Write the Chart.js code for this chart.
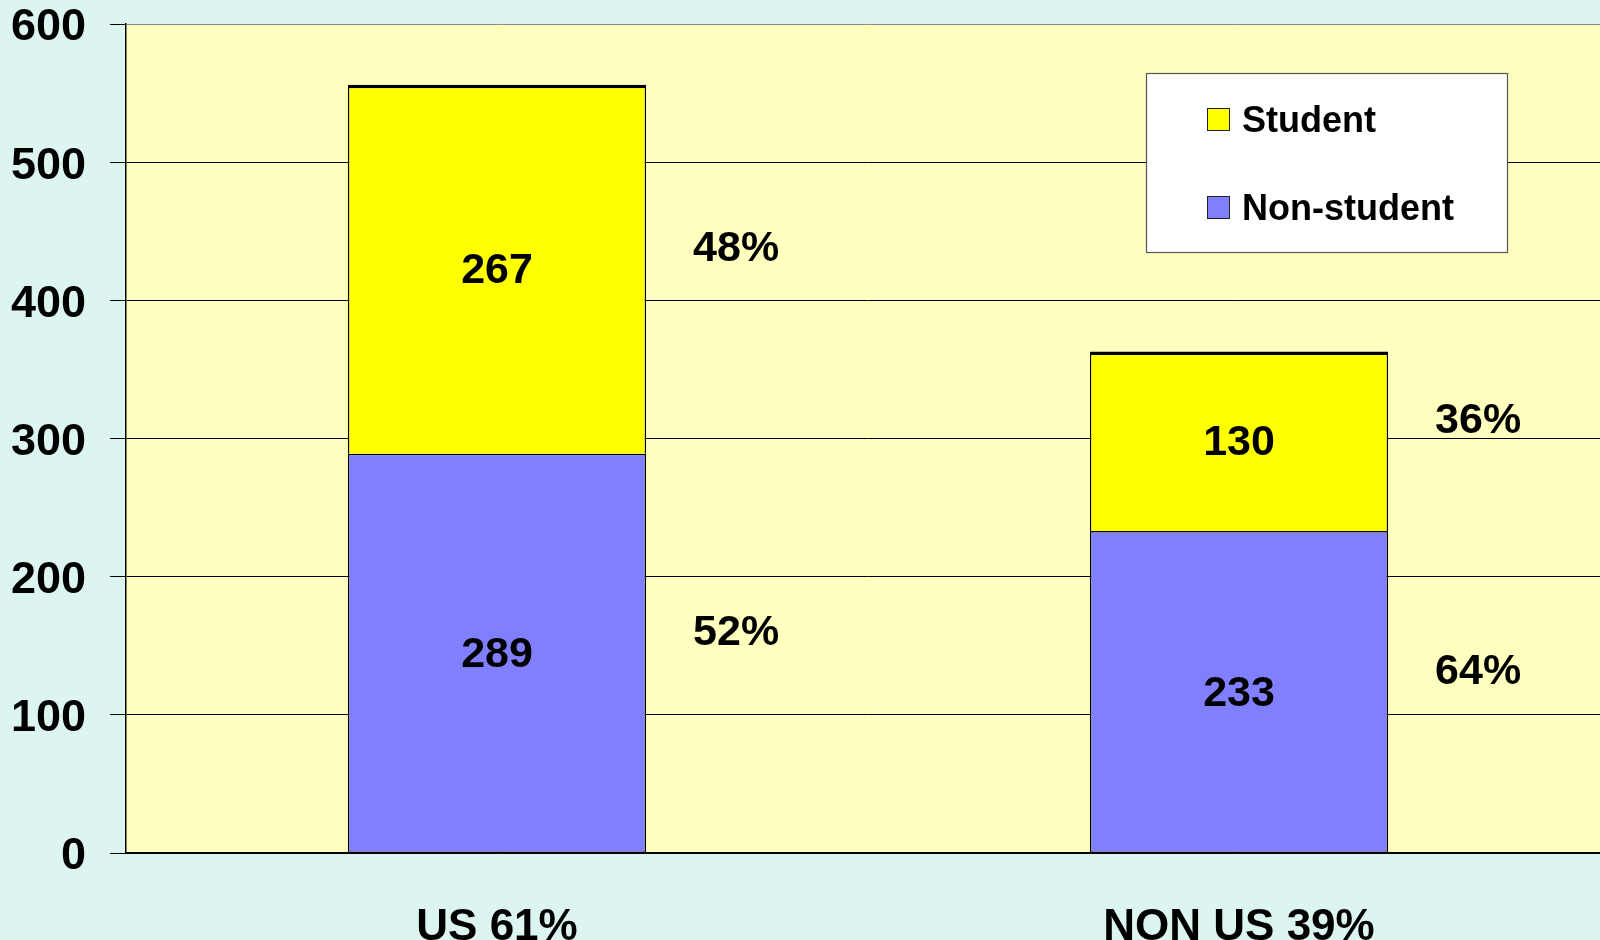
<!DOCTYPE html>
<html lang="en">
<head>
  <meta charset="UTF-8" />
  <title>US / Non US – Student vs Non-student</title>
  <script src="https://cdn.jsdelivr.net/npm/chart.js"></script>
  <style>
    html, body {
      margin: 0;
      padding: 0;
      overflow: hidden;
      background: #dcf5f1;
    }
    .chart-box {
      width: 1610px;
      height: 940px;
    }
  </style>
</head>
<body>

<div class="chart-box">
  <canvas id="groupChart"></canvas>
</div>

<script>
  // data
  const categories = ['US', 'NON US'];
  const nonStudent = [289, 233];
  const student = [267, 130];
  const yMax = 600;
  const yStep = 100;

  const FONT = "'Liberation Sans', Arial, sans-serif";

  const totals = categories.map((c, i) => nonStudent[i] + student[i]);
  const grand = totals.reduce((a, b) => a + b, 0);
  const catLabels = categories.map((c, i) => c + ' ' + Math.round(totals[i] / grand * 100) + '%');

  // yellow plot area
  const plotBg = {
    id: 'plotBg',
    beforeDraw(chart) {
      const { ctx, chartArea: a } = chart;
      ctx.save();
      ctx.fillStyle = '#ffffc0';
      ctx.fillRect(a.left, a.top, a.right - a.left, a.bottom - a.top);
      ctx.restore();
    }
  };

  // counts inside the bars, shares to the right
  const barLabels = {
    id: 'barLabels',
    afterDatasetsDraw(chart) {
      const ctx = chart.ctx;
      ctx.save();
      ctx.fillStyle = '#000';
      ctx.textAlign = 'center';
      ctx.textBaseline = 'middle';
      ctx.font = 'bold 43px ' + FONT;
      chart.data.datasets.forEach((ds, di) => {
        const meta = chart.getDatasetMeta(di);
        meta.data.forEach((bar, i) => {
          const mid = (bar.y + bar.base) / 2;
          ctx.fillText(String(ds.data[i]), bar.x, mid + 2);
          const pct = Math.round(ds.data[i] / totals[i] * 100) + '%';
          ctx.fillText(pct, bar.x + bar.width / 2 + 90, mid - 20);
        });
      });
      ctx.restore();
    }
  };

  // boxed legend in the upper right
  const boxLegend = {
    id: 'boxLegend',
    afterDraw(chart) {
      const ctx = chart.ctx;
      const bx = 1146, by = 73, bw = 361, bh = 179;
      ctx.save();
      ctx.fillStyle = '#fff';
      ctx.fillRect(bx, by, bw, bh);
      ctx.strokeStyle = '#555';
      ctx.lineWidth = 1.2;
      ctx.strokeRect(bx + 0.5, by + 0.5, bw, bh);
      ctx.font = 'bold 36px ' + FONT;
      ctx.textBaseline = 'middle';
      ctx.textAlign = 'left';
      const items = chart.data.datasets.slice().reverse();
      items.forEach((ds, k) => {
        const cy = 119 + k * 88;
        ctx.fillStyle = ds.backgroundColor;
        ctx.fillRect(bx + 61, cy - 11, 23, 23);
        ctx.strokeStyle = '#222';
        ctx.lineWidth = 1;
        ctx.strokeRect(bx + 61.5, cy - 10.5, 22, 22);
        ctx.fillStyle = '#000';
        ctx.fillText(ds.label, bx + 96, cy + 3);
      });
      ctx.restore();
    }
  };

  new Chart(document.getElementById('groupChart'), {
    type: 'bar',
    data: {
      labels: catLabels,
      datasets: [
        {
          label: 'Non-student',
          data: nonStudent,
          backgroundColor: '#8080ff',
          borderColor: '#000',
          borderWidth: { top: 1.5, left: 1.5, right: 1.5, bottom: 1 },
          borderSkipped: false
        },
        {
          label: 'Student',
          data: student,
          backgroundColor: '#ffff00',
          borderColor: '#000',
          borderWidth: { top: 3.5, left: 1.5, right: 1.5, bottom: 0 },
          borderSkipped: false
        }
      ]
    },
    options: {
      responsive: true,
      maintainAspectRatio: false,
      animation: false,
      layout: { padding: 0 },
      plugins: {
        legend: { display: false },
        tooltip: { enabled: false }
      },
      datasets: {
        bar: { categoryPercentage: 1, barPercentage: 0.402 }
      },
      scales: {
        x: {
          stacked: true,
          grid: { display: false, drawTicks: false },
          border: { display: true, color: '#000', width: 1.5 },
          ticks: {
            color: '#000',
            padding: 48,
            maxRotation: 0,
            font: { family: FONT, size: 44, weight: 'bold' }
          },
          afterFit(scale) { scale.height = 87; }
        },
        y: {
          stacked: true,
          min: 0,
          max: yMax,
          ticks: {
            stepSize: yStep,
            color: '#000',
            padding: 24,
            labelOffset: 4,
            font: { family: FONT, size: 45, weight: 'bold' }
          },
          grid: {
            color: c => (c.tick && c.tick.value === yMax ? '#8a8a8a' : '#000'),
            lineWidth: 1,
            tickLength: 16,
            tickColor: '#000'
          },
          border: { display: true, color: '#000', width: 1.5 },
          afterFit(scale) {
            scale.width = 126;
            scale.paddingTop = 24;
            scale.paddingBottom = 0;
          }
        }
      }
    },
    plugins: [plotBg, barLabels, boxLegend]
  });
</script>

</body>
</html>
